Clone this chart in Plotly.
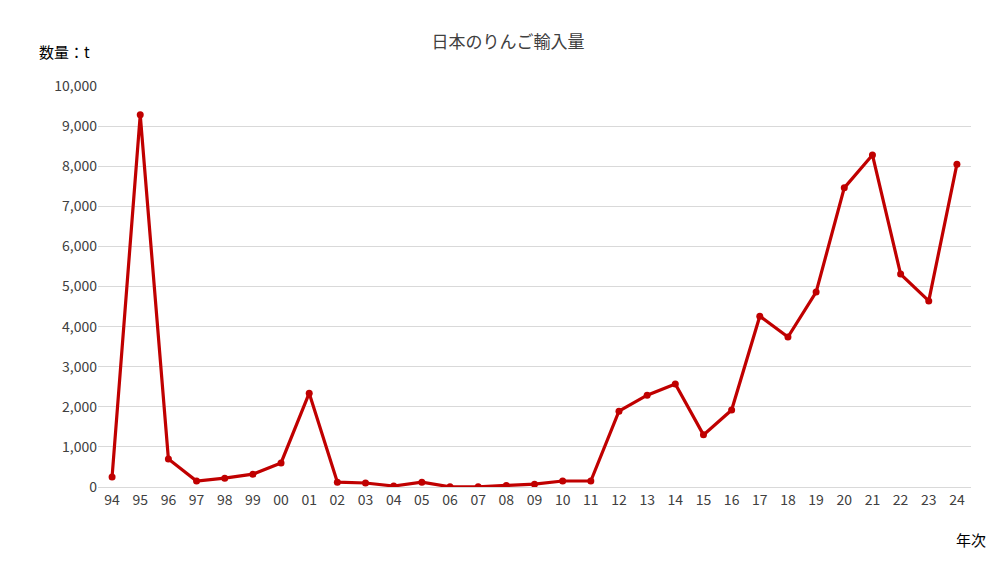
import plotly.graph_objects as go

years = ["94","95","96","97","98","99","00","01","02","03","04","05","06","07","08","09","10","11","12","13","14","15","16","17","18","19","20","21","22","23","24"]
values = [250,9280,700,150,220,320,600,2340,120,100,25,120,5,5,40,70,150,150,1890,2290,2570,1300,1920,4260,3740,4860,7460,8280,5310,4640,8050]
yticks = [0,1000,2000,3000,4000,5000,6000,7000,8000,9000,10000]

fig = go.Figure(go.Scatter(x=years, y=values, mode="lines+markers",
    line=dict(color="#C00000", width=3.2), marker=dict(color="#C00000", size=7)))
fig.update_layout(
    width=1000, height=568, paper_bgcolor="white", plot_bgcolor="white",
    margin=dict(l=90, r=37, t=78, b=89),
    font=dict(family="Noto Sans CJK JP", size=14, color="#404040"),
    title=dict(text="日本のりんご輸入量", x=0.5, xanchor="center", yref="container", y=1-34/568, yanchor="middle", font=dict(size=17, color="#404040")),
    showlegend=False,
    xaxis=dict(type="category", range=[-0.5, 30.5], showgrid=False, showline=True, linecolor="#d9d9d9", ticks="", tickfont=dict(size=14)),
    yaxis=dict(range=[0,10000], tickvals=yticks, tickformat=",d", gridcolor="#d9d9d9", zeroline=False, ticks="", tickfont=dict(size=14)),
    annotations=[
        dict(text="数量：t", xref="paper", yref="paper", x=-0.07, y=1.055, xanchor="left", yanchor="bottom", showarrow=False, font=dict(size=15, color="#000")),
        dict(text="年次", xref="paper", yref="paper", x=1.02, y=-0.1, xanchor="right", yanchor="top", showarrow=False, font=dict(size=15, color="#000")),
    ],
)
fig.write_html("out.html")
